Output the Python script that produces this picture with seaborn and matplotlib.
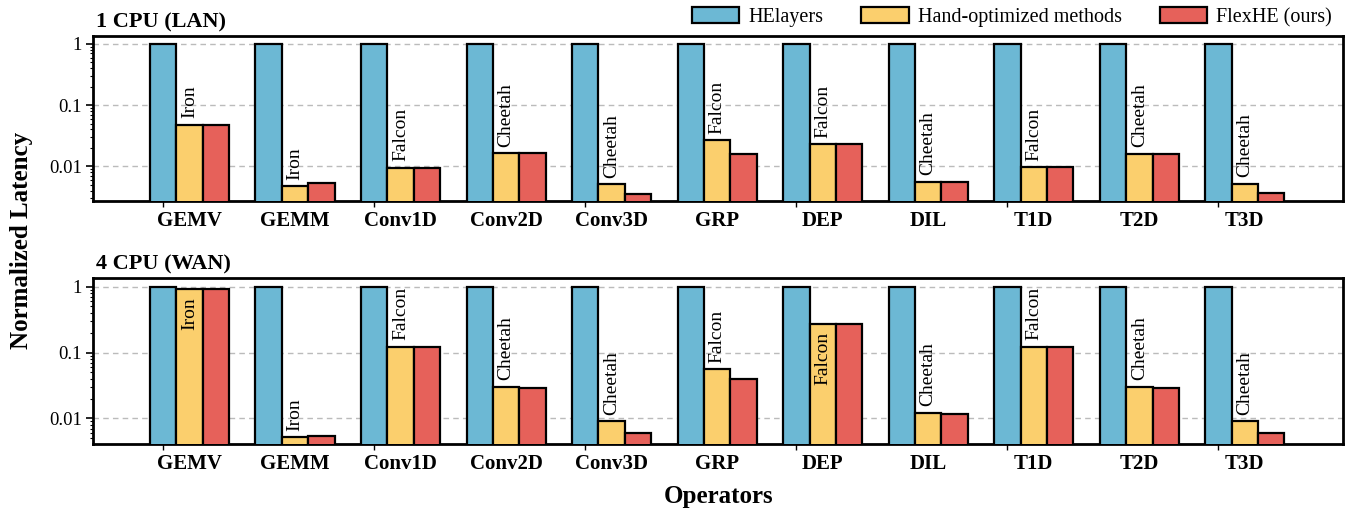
import matplotlib
matplotlib.use("Agg")
import matplotlib.pyplot as plt
from matplotlib.ticker import FixedLocator, FuncFormatter, LogLocator, NullFormatter
import seaborn as sns
import pandas as pd

operators = ['GEMV', 'GEMM', 'Conv1D', 'Conv2D', 'Conv3D', 'GRP', 'DEP', 'DIL', 'T1D', 'T2D', 'T3D']
hand_methods = ['Iron', 'Iron', 'Falcon', 'Cheetah', 'Cheetah', 'Falcon', 'Falcon', 'Cheetah', 'Falcon', 'Cheetah', 'Cheetah']
series_names = ['HElayers', 'Hand-optimized methods', 'FlexHE (ours)']

lan_helayers = [1, 1, 1, 1, 1, 1, 1, 1, 1, 1, 1]
lan_hand = [0.048, 0.0048, 0.0095, 0.0163, 0.0051, 0.0267, 0.023, 0.0056, 0.0096, 0.0161, 0.0052]
lan_flex = [0.048, 0.0053, 0.0095, 0.0163, 0.0035, 0.0157, 0.023, 0.0056, 0.0096, 0.0161, 0.0036]

wan_helayers = [1, 1, 1, 1, 1, 1, 1, 1, 1, 1, 1]
wan_hand = [0.91, 0.0052, 0.123, 0.0299, 0.0090, 0.056, 0.275, 0.0122, 0.122, 0.0302, 0.0090]
wan_flex = [0.93, 0.0055, 0.123, 0.0288, 0.0061, 0.0395, 0.275, 0.0118, 0.122, 0.0288, 0.0061]

panel_titles = ['1 CPU (LAN)', '4 CPU (WAN)']
colors = ['#6CB8D4', '#FBCF6D', '#E6615A']

sns.set_theme(style='ticks')
plt.rcParams['font.family'] = ['Liberation Serif', 'DejaVu Serif']
plt.rcParams['axes.linewidth'] = 2.0
for key in ['text.color', 'axes.labelcolor', 'xtick.color', 'ytick.color', 'axes.edgecolor']:
    plt.rcParams[key] = 'black'

fig = plt.figure(figsize=(13.51, 5.12), dpi=100)
ax_top = fig.add_axes([93 / 1351, 1 - 201 / 512, 1250 / 1351, 165 / 512])
ax_bot = fig.add_axes([93 / 1351, 1 - 444 / 512, 1250 / 1351, 166 / 512])

panels = [
    (ax_top, lan_helayers, lan_hand, lan_flex, (0.0027, 1.35)),
    (ax_bot, wan_helayers, wan_hand, wan_flex, (0.0041, 1.35)),
]

for idx, (ax, helayers, hand, flex, ylim) in enumerate(panels):
    df = pd.DataFrame({
        'op': operators * 3,
        'series': [series_names[0]] * 11 + [series_names[1]] * 11 + [series_names[2]] * 11,
        'value': list(helayers) + list(hand) + list(flex),
    })
    ax.set_yscale('log')
    sns.barplot(data=df, x='op', y='value', hue='series', order=operators,
                hue_order=series_names, palette=colors, width=0.75,
                edgecolor='black', linewidth=1.6, saturation=1, ax=ax,
                legend=(idx == 0), zorder=3)
    ax.set_ylim(*ylim)
    ax.set_xlim(-0.914, 10.93)
    ax.yaxis.set_major_locator(FixedLocator([0.01, 0.1, 1]))
    ax.yaxis.set_major_formatter(FuncFormatter(lambda v, p: '%g' % v))
    ax.yaxis.set_minor_locator(LogLocator(base=10, subs=range(2, 10)))
    ax.yaxis.set_minor_formatter(NullFormatter())
    ax.grid(axis='y', which='major', linestyle=(0, (4, 3)), color='#BBBBBB', linewidth=1.0, zorder=0)
    ax.set_axisbelow(True)
    ax.tick_params(axis='y', which='major', direction='out', length=5, width=1.2, labelsize=13.5, pad=3, colors='black')
    ax.tick_params(axis='y', which='minor', direction='out', length=2.5, width=0.8, colors='black')
    ax.set_xticks(range(len(operators)))
    ax.set_xticklabels(operators, fontweight='bold', fontsize=15, color='black')
    ax.tick_params(axis='x', which='major', length=0, pad=7)
    ax.xaxis.set_minor_locator(FixedLocator([i - 0.25 for i in range(0, 11, 2)]))
    ax.tick_params(axis='x', which='minor', length=4, width=1.0, direction='out', colors='black')
    ax.set_xlabel('')
    ax.set_ylabel('')
    for s in ax.spines.values():
        s.set_visible(True)
        s.set_linewidth(2.0)
        s.set_color('black')
    ax.set_title(panel_titles[idx], loc='left', fontsize=16, fontweight='bold', pad=6, x=0.002, color='black')

    for i, (name, v) in enumerate(zip(hand_methods, hand)):
        if v > 0.2:
            ax.text(i, v * 0.76, name, rotation=90, ha='center', va='top', fontsize=14, zorder=5, color='black')
        else:
            ax.text(i, v * 1.26, name, rotation=90, ha='center', va='bottom', fontsize=14, zorder=5, color='black')

leg = ax_top.get_legend()
handles = leg.legend_handles
leg.remove()
fig.legend(handles, series_names, loc='center right', bbox_to_anchor=(0.992, 0.966),
           ncol=3, frameon=False, fontsize=14.5, handlelength=2.35, handleheight=0.85,
           handletextpad=0.45, columnspacing=1.9, borderaxespad=0, labelcolor='black')

fig.text(0.016, 0.53, 'Normalized Latency', rotation=90, ha='center', va='center',
         fontsize=18, fontweight='bold', color='black')
fig.text(0.532, 0.03, 'Operators', ha='center', va='center', fontsize=18, fontweight='bold', color='black')

fig.savefig('out.png', dpi=100)
